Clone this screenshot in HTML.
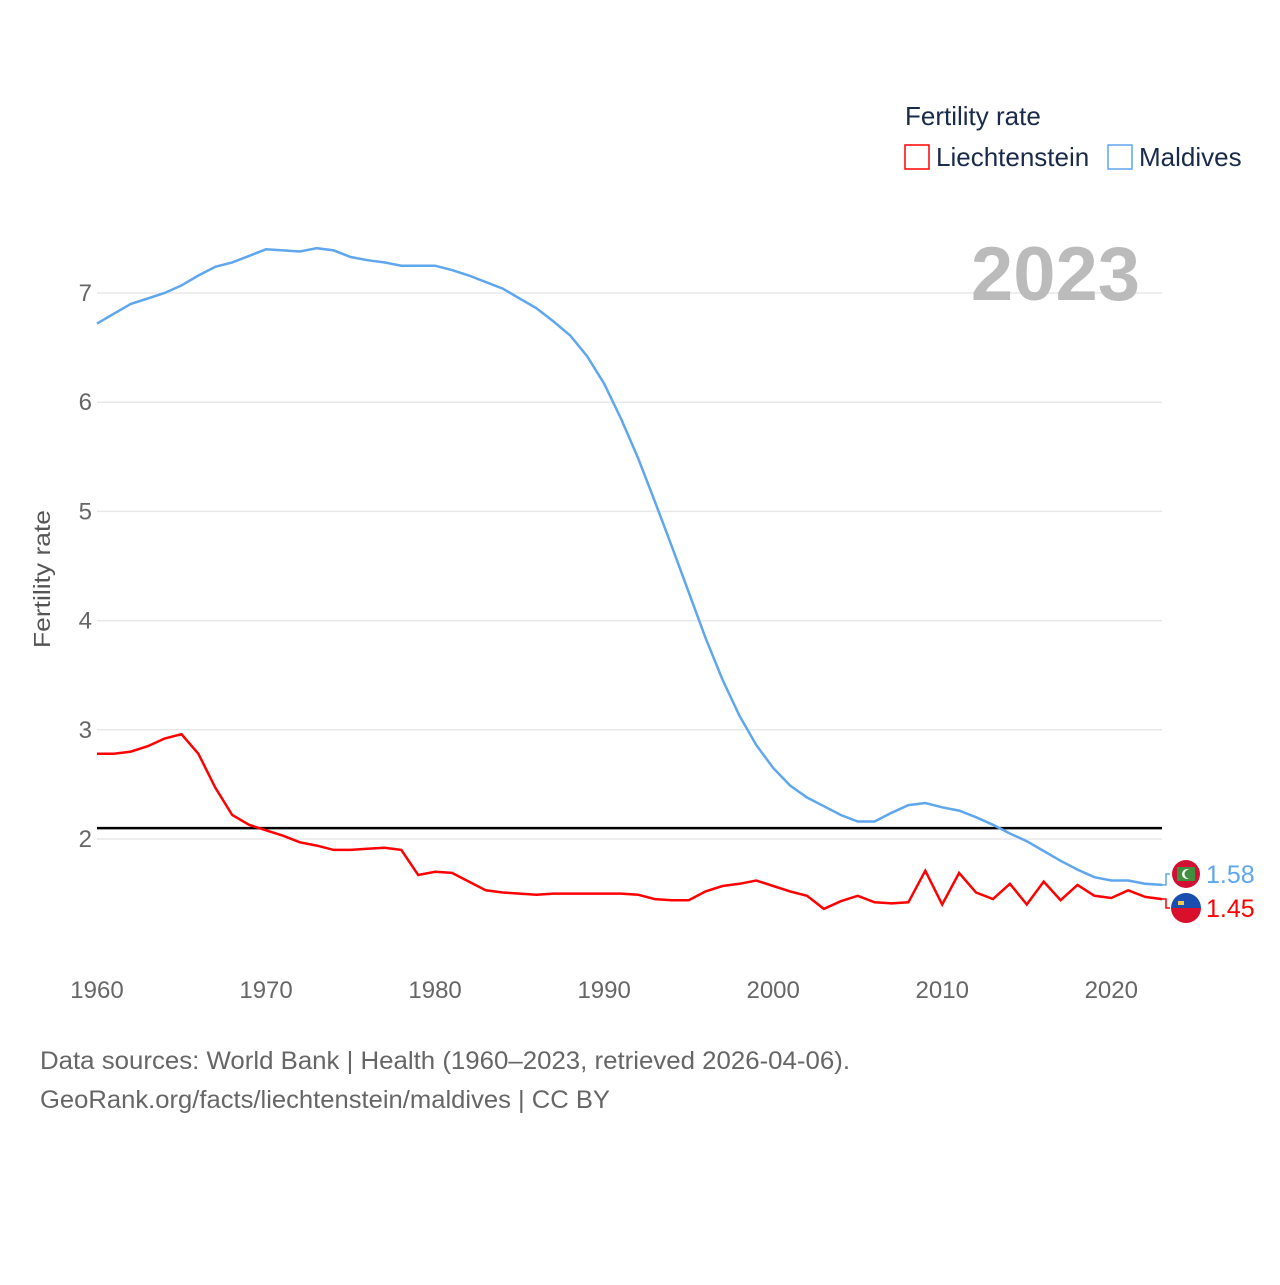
<!DOCTYPE html>
<html><head><meta charset="utf-8"><style>
body{margin:0;background:#fff;width:1280px;height:1280px;overflow:hidden;font-family:"Liberation Sans",sans-serif}
</style></head><body>
<svg id="chart" width="1280" height="1280" xmlns="http://www.w3.org/2000/svg">
<g id="grid"></g>
<g id="yticks"></g>
<g id="xticks"></g>
<text x="50" y="579" transform="rotate(-90 50 579)" text-anchor="middle" font-size="23" textLength="138" lengthAdjust="spacingAndGlyphs" fill="#555">Fertility rate</text>
<text x="1140" y="300" text-anchor="end" font-size="76" font-weight="bold" fill="#bbb">2023</text>
<g>
<text x="905" y="125" font-size="26" fill="#1a2a4a">Fertility rate</text>
<g><rect x="905" y="145" width="24" height="24" fill="none" stroke="#f00" stroke-width="1.5"/><text x="936" y="166" font-size="26" fill="#1a2a4a">Liechtenstein</text></g>
<g><rect x="1108" y="145" width="24" height="24" fill="none" stroke="#5ea6ee" stroke-width="1.5"/><text x="1139" y="166" font-size="26" fill="#1a2a4a">Maldives</text></g>
</g>
<g id="series"></g>
<g id="labels"></g>
<text x="40" y="1069" font-size="25" textLength="810" lengthAdjust="spacingAndGlyphs" fill="#666">Data sources: World Bank | Health (1960–2023, retrieved 2026-04-06).</text>
<text x="40" y="1108" font-size="25" textLength="570" lengthAdjust="spacingAndGlyphs" fill="#666">GeoRank.org/facts/liechtenstein/maldives | CC BY</text>
</svg>
<script>
const years = Array.from({length:64},(_, i)=>1960+i);
const liechtenstein = [2.78,2.78,2.80,2.85,2.92,2.96,2.78,2.47,2.22,2.13,2.08,2.03,1.97,1.94,1.90,1.90,1.91,1.92,1.90,1.67,1.70,1.69,1.61,1.53,1.51,1.50,1.49,1.50,1.50,1.50,1.50,1.50,1.49,1.45,1.44,1.44,1.52,1.57,1.59,1.62,1.57,1.52,1.48,1.36,1.43,1.48,1.42,1.41,1.42,1.71,1.40,1.69,1.51,1.45,1.59,1.40,1.61,1.44,1.58,1.48,1.46,1.53,1.47,1.45];
const maldives = [6.72,6.81,6.90,6.95,7.00,7.07,7.16,7.24,7.28,7.34,7.40,7.39,7.38,7.41,7.39,7.33,7.30,7.28,7.25,7.25,7.25,7.21,7.16,7.10,7.04,6.95,6.86,6.74,6.61,6.42,6.17,5.85,5.49,5.09,4.68,4.26,3.84,3.46,3.13,2.86,2.65,2.49,2.38,2.30,2.22,2.16,2.16,2.24,2.31,2.33,2.29,2.26,2.20,2.13,2.05,1.98,1.89,1.80,1.72,1.65,1.62,1.62,1.59,1.58];
const yTicks = [2,3,4,5,6,7];
const xTicks = [1960,1970,1980,1990,2000,2010,2020];
const replacement = 2.1;
const NS="http://www.w3.org/2000/svg";
const X = y => 97 + (y-1960)*(1162-97)/63;
const Y = v => 839 - (v-2)*109.2;
function mk(tag, attrs, parent){const e=document.createElementNS(NS,tag);for(const k in attrs)e.setAttribute(k,attrs[k]);parent.appendChild(e);return e;}
const grid=document.getElementById('grid'), yt=document.getElementById('yticks'), xt=document.getElementById('xticks');
yTicks.forEach(t=>{
  const l=mk('line',{x1:97,x2:1162,y1:Y(t),y2:Y(t),stroke:'#e8e8e8','stroke-width':1.5},grid);
  
  
  const tx=mk('text',{x:92,y:Y(t)+8,'text-anchor':'end','font-size':24,fill:'#666'},yt);
  tx.textContent=t;
  
  
});
xTicks.forEach(t=>{
  const tx=mk('text',{x:X(t),y:998,'text-anchor':'middle','font-size':24,fill:'#666'},xt);
  tx.textContent=t;
  
  
});
const s=document.getElementById('series');
const rl=mk('line',{x1:97,x2:1162,y1:Y(replacement),y2:Y(replacement),stroke:'#000','stroke-width':2.5},s);


function path(vals){return vals.map((v,i)=>(i?'L':'M')+X(years[i]).toFixed(1)+','+Y(v).toFixed(1)).join('');}
const pm=mk('path',{d:path(maldives),fill:'none',stroke:'#5ea6ee','stroke-width':2.5},s);


const pl=mk('path',{d:path(liechtenstein),fill:'none',stroke:'#f00','stroke-width':2.5},s);


const lb=document.getElementById('labels');
function endLabel(val,color,ly,name,flag){
  const ex=X(years[years.length-1]);
  const c=mk('path',{d:`M${ex},${Y(val)} h4 V${ly} h4`,fill:'none',stroke:color,'stroke-width':1.5},lb);
  
  
  const g=mk('g',{},lb);
  
  
  flag(g,1186,ly);
  const t=mk('text',{x:1206,y:ly+9,'font-size':25,fill:color},lb);
  t.textContent=val.toFixed(2);
  
  
}
endLabel(maldives[63],'#5ea6ee',874,'maldives',(g,cx,cy)=>{
  mk('circle',{cx,cy,r:14,fill:'#d21034'},g);
  mk('rect',{x:cx-9,y:cy-7,width:18,height:14,fill:'#3f8f3f'},g);
  mk('circle',{cx:cx+1,cy,r:5,fill:'#fff'},g);
  mk('circle',{cx:cx+3,cy,r:4.5,fill:'#3f8f3f'},g);
});
endLabel(liechtenstein[63],'#f00',908,'liechtenstein',(g,cx,cy)=>{
  mk('path',{d:`M${cx-15},${cy} A15,15 0 0 1 ${cx+15},${cy} Z`,fill:'#1a4db0'},g);
  mk('path',{d:`M${cx-15},${cy} A15,15 0 0 0 ${cx+15},${cy} Z`,fill:'#d8102c'},g);
  mk('rect',{x:cx-8,y:cy-7,width:6,height:4,fill:'#f2c94c'},g);
});
</script>
</body></html>
